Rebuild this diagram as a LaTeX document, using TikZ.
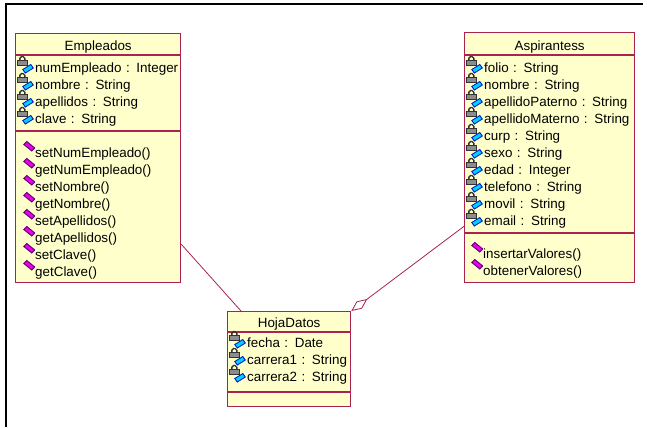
\documentclass[tikz,border=0pt]{standalone}
\usepackage{fontspec}
\setmainfont{Liberation Sans}
\usetikzlibrary{arrows.meta}
\definecolor{rosefill}{RGB}{255,255,204}
\definecolor{roseline}{RGB}{170,35,80}
\definecolor{lockbody}{RGB}{140,140,140}
\definecolor{lockedge}{RGB}{50,50,50}
\definecolor{keycyan}{RGB}{0,210,255}
\definecolor{keyblue}{RGB}{0,30,200}
\definecolor{opfill}{RGB}{235,0,235}
\definecolor{opedge}{RGB}{90,0,110}
\tikzset{
  lockicon/.style={inner sep=0pt,minimum width=18bp,minimum height=30bp,
    path picture={
      \begin{scope}[shift={(path picture bounding box.center)}]
        \draw[lockedge,line width=1.4bp,rounded corners=1.8bp] (-6,-7) -- (-6,-12) -- (-1,-12) -- (-1,-7);
        \filldraw[fill=lockbody,draw=lockedge,line width=0.9bp] (-8.5,-8.5) rectangle (1.5,-3.5);
        \filldraw[fill=keycyan,draw=keyblue,line width=0.9bp] (-3,1) -- (5,-4) -- (7.5,-0.5) -- (-0.5,4.5) -- cycle;
      \end{scope}}},
  opicon/.style={inner sep=0pt,minimum width=18bp,minimum height=30bp,
    path picture={
      \begin{scope}[shift={(path picture bounding box.center)}]
        \filldraw[fill=opfill,draw=opedge,line width=0.9bp] (-2,-9) -- (1,-12) -- (9,-5.5) -- (6,-2.5) -- cycle;
      \end{scope}}},
  classbox/.style={draw=roseline,line width=1.3bp,fill=rosefill,inner sep=0pt,anchor=north west},
  sepline/.style={draw=roseline,line width=1.3bp},
  title/.style={inner sep=0pt,text height=10bp,text depth=3bp},
  member/.style={inner sep=0pt,text height=10bp,text depth=3bp,text width=200bp,align=left},
  attr/.style={member,label={[lockicon]left:{}}},
  oper/.style={member,label={[opicon]left:{}}},
  assoc/.style={draw=roseline,line width=0.8bp}
}
\begin{document}
\begin{tikzpicture}[x=1bp,y=-1bp,node distance=17bp,font=\fontsize{13.4bp}{17bp}\selectfont]
        \useasboundingbox (0,0) rectangle (647,427);
        \draw[line width=2bp] (6,427) -- (6,3.5) -- (643,3.5);

        % Empleados
        \node[classbox,minimum width=165bp,minimum height=249bp] (emp) at (15,33) {};
        \draw[sepline] ([yshift=-22bp]emp.north west) -- ([yshift=-22bp]emp.north east);
        \draw[sepline] ([yshift=-98bp]emp.north west) -- ([yshift=-98bp]emp.north east);
        \node[title] (empT) at ([yshift=-13.5bp]emp.north) {Empleados};
        \node[attr,anchor=west] (e1) at (35,68.5) {numEmpleado : Integer};
        \node[attr] (e2) [below of=e1] {nombre : String};
        \node[attr] (e3) [below of=e2] {apellidos : String};
        \node[attr] (e4) [below of=e3] {clave : String};
        \node[oper,anchor=west] (eo1) at (35,153.5) {setNumEmpleado()};
        \node[oper] (eo2) [below of=eo1] {getNumEmpleado()};
        \node[oper] (eo3) [below of=eo2] {setNombre()};
        \node[oper] (eo4) [below of=eo3] {getNombre()};
        \node[oper] (eo5) [below of=eo4] {setApellidos()};
        \node[oper] (eo6) [below of=eo5] {getApellidos()};
        \node[oper] (eo7) [below of=eo6] {setClave()};
        \node[oper] (eo8) [below of=eo7] {getClave()};

        % Aspirantess
        \node[classbox,minimum width=170bp,minimum height=250bp] (asp) at (464,32) {};
        \draw[sepline] ([yshift=-23bp]asp.north west) -- ([yshift=-23bp]asp.north east);
        \draw[sepline] ([yshift=-201bp]asp.north west) -- ([yshift=-201bp]asp.north east);
        \node[title] (aspT) at ([yshift=-14.5bp]asp.north) {Aspirantess};
        \node[attr,anchor=west] (a1) at (484,68.5) {folio : String};
        \node[attr] (a2) [below of=a1] {nombre : String};
        \node[attr] (a3) [below of=a2] {apellidoPaterno : String};
        \node[attr] (a4) [below of=a3] {apellidoMaterno : String};
        \node[attr] (a5) [below of=a4] {curp : String};
        \node[attr] (a6) [below of=a5] {sexo : String};
        \node[attr] (a7) [below of=a6] {edad : Integer};
        \node[attr] (a8) [below of=a7] {telefono : String};
        \node[attr] (a9) [below of=a8] {movil : String};
        \node[attr] (a10) [below of=a9] {email : String};
        \node[oper,anchor=west] (ao1) at (483,254.5) {insertarValores()};
        \node[oper] (ao2) [below of=ao1] {obtenerValores()};

        % HojaDatos
        \node[classbox,minimum width=123bp,minimum height=95bp] (hoja) at (227,311) {};
        \draw[sepline] ([yshift=-21bp]hoja.north west) -- ([yshift=-21bp]hoja.north east);
        \draw[sepline] ([yshift=-81bp]hoja.north west) -- ([yshift=-81bp]hoja.north east);
        \node[title] (hojaT) at ([yshift=-12.5bp]hoja.north) {HojaDatos};
        \node[attr,anchor=west] (h1) at (247,343.5) {fecha : Date};
        \node[attr] (h2) [below of=h1] {carrera1 : String};
        \node[attr] (h3) [below of=h2] {carrera2 : String};

        \draw[assoc] (emp.-46) -- (hoja.135);
        \draw[assoc,-{Diamond[fill=white,length=20bp,width=9bp]}] ([yshift=57bp]asp.south west) -- (hoja.north east);
    \end{tikzpicture}
\end{document}
